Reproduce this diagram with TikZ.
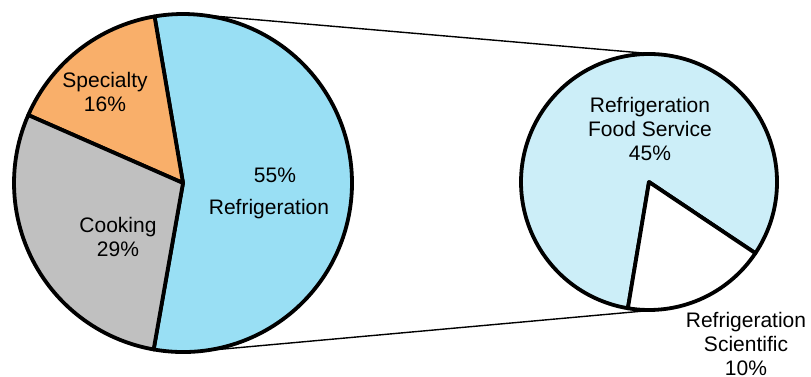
\documentclass[tikz,border=0pt]{standalone}
\usepackage{fontspec}
\setmainfont{Liberation Sans}
\definecolor{refblue}{HTML}{99DFF4}
\definecolor{specorange}{HTML}{F9AF6A}
\definecolor{cookgray}{HTML}{C0C0C0}
\definecolor{foodblue}{HTML}{CCEEF8}
\begin{document}
\begin{tikzpicture}[x=1pt,y=1pt,
  slice/.style={draw=black,line width=3.8pt,line join=round},
  zoomline/.style={draw=black,line width=1.4pt},
  lbl/.style={inner sep=0pt,align=center,font=\fontsize{21}{24}\selectfont}]
\useasboundingbox (0,0) rectangle (811,376);
% centres
\coordinate (c1) at (183,193);
\coordinate (c2) at (649,194);
% tangent points of the zoom lines
\coordinate (t1) at (197.5,361.4);
\coordinate (t2) at (660.0,321.5);
\coordinate (t3) at (198.2,24.7);
\coordinate (t4) at (660.5,66.5);
\draw[zoomline] (t1) -- (t2);
\draw[zoomline] (t3) -- (t4);
% big pie
\draw[slice,fill=refblue] (c1) -- ++(-100:169) arc[start angle=-100,end angle=99.7,radius=169] -- cycle;
\draw[slice,fill=specorange] (c1) -- ++(99.7:169) arc[start angle=99.7,end angle=156.3,radius=169] -- cycle;
\draw[slice,fill=cookgray] (c1) -- ++(156.3:169) arc[start angle=156.3,end angle=260,radius=169] -- cycle;
% small pie
\draw[slice,fill=foodblue] (c2) -- ++(-33.8:128) arc[start angle=-33.8,end angle=260.5,radius=128] -- cycle;
\draw[slice,fill=white] (c2) -- ++(-99.5:128) arc[start angle=-99.5,end angle=-33.8,radius=128] -- cycle;
% labels
\node[lbl] (spec) at (105,284) {Specialty\\16\%};
\node[lbl] (cook) at (118,139.5) {Cooking\\29\%};
\node[lbl] (refp) at (275,201) {55\%};
\node[lbl] (refl) at (269,167) {Refrigeration};
\node[lbl] (food) at (650,247) {Refrigeration\\Food Service\\45\%};
\node[lbl] (sci) at (746,32) {Refrigeration\\Scientific\\10\%};
\end{tikzpicture}
\end{document}
